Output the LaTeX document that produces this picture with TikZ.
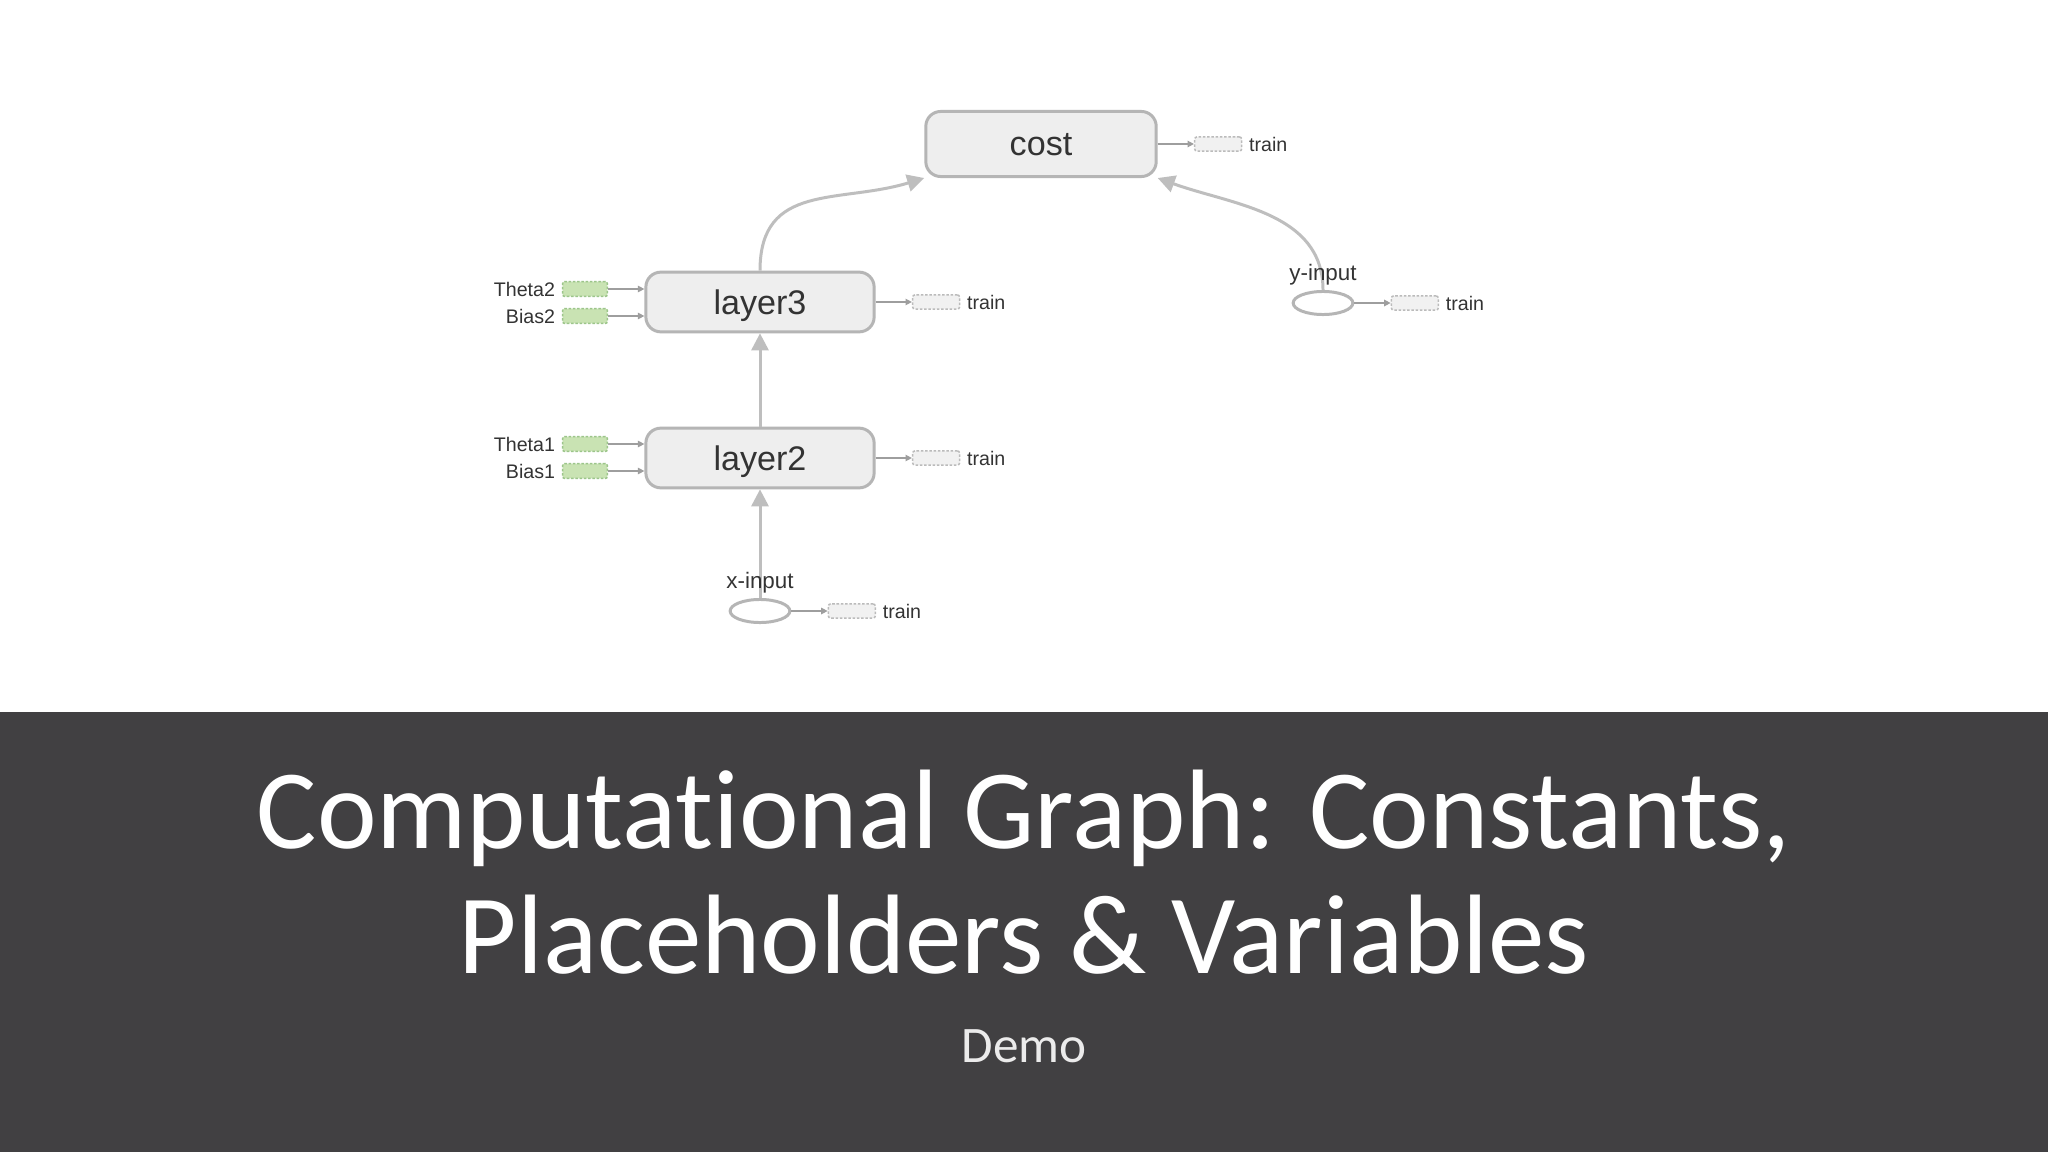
\documentclass[tikz,border=0pt]{standalone}
\usepackage{fontspec}
\setmainfont[Ligatures=NoCommon]{Carlito}
\newfontfamily\graphfont{Liberation Sans}
\usetikzlibrary{positioning,shapes.geometric,arrows.meta}
\definecolor{bandgray}{HTML}{414042}
\definecolor{boxgray}{HTML}{EEEEEE}
\definecolor{edgegray}{HTML}{B5B5B5}
\definecolor{flowgray}{HTML}{BEBEBE}
\definecolor{thingray}{HTML}{9E9E9E}
\definecolor{varfill}{HTML}{C9E3B3}
\definecolor{varedge}{HTML}{9CC58A}
\definecolor{trainfill}{HTML}{F1F1F1}
\definecolor{trainedge}{HTML}{BBBBBB}
\definecolor{inkgray}{HTML}{333333}
\definecolor{demogray}{HTML}{EBEBEB}
\tikzset{
  opbox/.style={draw=edgegray, line width=1.4pt, fill=boxgray, rounded corners=7pt,
    minimum width=107pt, minimum height=28pt, text=inkgray, text depth=0pt,
    font=\graphfont\fontsize{16}{18}\selectfont},
  phold/.style={ellipse, draw=edgegray, line width=1.4pt, fill=white,
    minimum width=28pt, minimum height=10.8pt, inner sep=0pt},
  varbox/.style={draw=varedge, fill=varfill, dash pattern=on 1.2pt off 0.8pt,
    line width=0.7pt, rounded corners=1pt, minimum width=21pt, minimum height=7pt, inner sep=0pt},
  trainbox/.style={draw=trainedge, fill=trainfill, dash pattern=on 1.2pt off 0.8pt,
    line width=0.7pt, rounded corners=1pt, minimum width=22pt, minimum height=6.6pt, inner sep=0pt},
  smalllbl/.style={inner sep=1pt, text=inkgray, font=\graphfont\fontsize{9.2}{11}\selectfont},
  inlbl/.style={inner sep=1pt, text=inkgray, font=\graphfont\fontsize{10.5}{12}\selectfont},
  flow/.style={draw=flowgray, line width=1.4pt, -{Triangle[length=8pt,width=8pt]}},
  thinflow/.style={draw=thingray, line width=0.6pt, -{Triangle[length=3pt,width=3pt]}},
  titletext/.style={text=white, font=\fontsize{53}{60}\selectfont, inner sep=0pt}
}
\begin{document}
\begin{tikzpicture}[x=0.46875pt,y=-0.46875pt]
% fond : zone blanche et bandeau du titre
\fill[white] (0,0) rectangle (2048,712);
\fill[bandgray] (0,712) rectangle (2048,1152);
\useasboundingbox (0,0) rectangle (2048,1152);

% les operations
\node[opbox, minimum width=108pt, minimum height=30.5pt] (cost) at (1041,144) {cost};
\node[opbox] (layer3) at (760,302) {layer3};
\node[opbox] (layer2) at (760,458) {layer2};

% les entrees (placeholders)
\node[phold] (xin) at (760,611) {};
\node[phold] (yin) at (1323,303) {};

% les variables
\node[varbox] (theta2) at (585,289) {};
\node[varbox] (bias2) at (585,316) {};
\node[varbox] (theta1) at (585,444) {};
\node[varbox] (bias1) at (585,471) {};
\node[smalllbl, left=2pt of theta2] (theta2lbl) {Theta2};
\node[smalllbl, left=2pt of bias2] (bias2lbl) {Bias2};
\node[smalllbl, left=2pt of theta1] (theta1lbl) {Theta1};
\node[smalllbl, left=2pt of bias1] (bias1lbl) {Bias1};
\foreach \v/\op in {theta2/layer3, bias2/layer3, theta1/layer2, bias1/layer2}
  \draw[thinflow] (\v) -- (\v.east -| \op.west);

% les fleches epaisses
\draw[flow] (xin) -- (layer2);
\draw[flow] (layer2) -- (layer3);
\draw[flow] (layer3.north) to[out=90,in=197,looseness=1.2] (cost.south west);
\draw[flow] (yin.north) to[out=90,in=-20] (cost.south east);

% noms des entrees, par dessus les traits
\node[inlbl, above=1pt of xin] (xinlbl) {x-input};
\node[inlbl, above=1pt of yin] (yinlbl) {y-input};

% les sorties vers train
\foreach \src/\nm in {cost/tc, layer3/tl3, layer2/tl2, xin/tx, yin/ty} {
  \node[trainbox, right=17pt of \src] (\nm) {};
  \node[smalllbl, right=2pt of \nm] (\nm-lbl) {train};
  \draw[thinflow] (\src) -- (\nm);
}

% le titre
\node[titletext, anchor=base] (title1) at (1024,848) {Computational Graph: Constants,};
\node[titletext, anchor=base] (title2) at (1024,973) {Placeholders \& Variables};
\node[text=demogray, anchor=base, inner sep=0pt, font=\fontsize{24}{29}\selectfont] (demo) at (1024,1062) {Demo};
\end{tikzpicture}
\end{document}
